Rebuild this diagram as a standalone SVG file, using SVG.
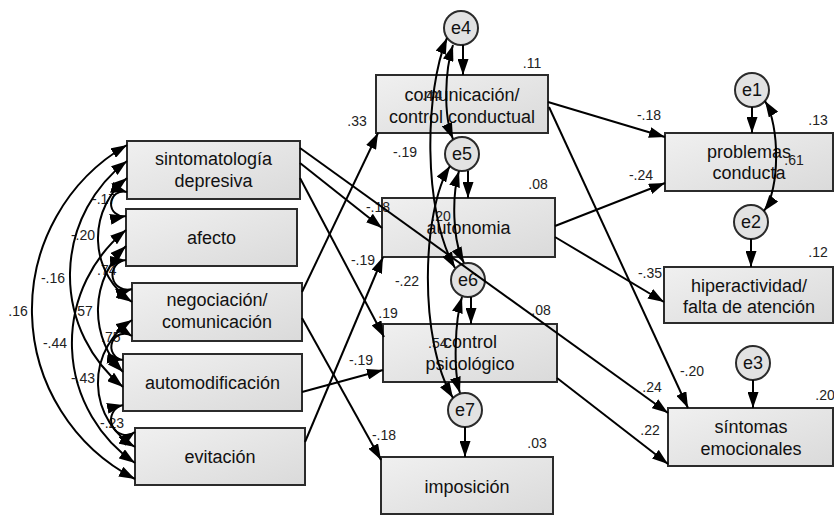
<svg xmlns="http://www.w3.org/2000/svg" width="834" height="516" viewBox="0 0 834 516">
<defs>
  <linearGradient id="boxFill" x1="0" y1="0" x2="1" y2="1">
    <stop offset="0" stop-color="#f0f0f0"/>
    <stop offset="1" stop-color="#dadada"/>
  </linearGradient>
  <marker id="ah" viewBox="0 0 16 11" markerUnits="userSpaceOnUse" markerWidth="16" markerHeight="11" refX="16" refY="5.5" orient="auto-start-reverse">
    <path d="M0,0 L16,5.5 L0,11 z" fill="#000"/>
  </marker>
  <style>
    .box { fill: url(#boxFill); stroke: #2b2b2b; stroke-width: 2; }
    .err { fill: #e2e2e2; stroke: #2b2b2b; stroke-width: 2; }
    .t { font-family: "Liberation Sans", Arial, sans-serif; font-size: 18px; fill: #111; text-anchor: middle; }
    .lb { font-family: "Liberation Sans", Arial, sans-serif; font-size: 14px; fill: #222; text-anchor: middle; }
    .ls { text-anchor: start; }
    .c { fill: none; stroke: #000; stroke-width: 2; }
    .one { marker-end: url(#ah); }
    .two { marker-start: url(#ah); marker-end: url(#ah); }
  </style>
</defs>

<!-- exogenous variables -->
<g id="sintomatologia">
  <rect class="box" x="127" y="141" width="173" height="58"/>
  <text class="t" x="213.5" y="165">sintomatología</text>
  <text class="t" x="213.5" y="187">depresiva</text>
</g>
<g id="afecto">
  <rect class="box" x="126" y="209" width="171" height="57"/>
  <text class="t" x="211.5" y="244">afecto</text>
</g>
<g id="negociacion">
  <rect class="box" x="132" y="283" width="170" height="58"/>
  <text class="t" x="217" y="306">negociación/</text>
  <text class="t" x="217" y="328">comunicación</text>
</g>
<g id="automodificacion">
  <rect class="box" x="123" y="354" width="179" height="57"/>
  <text class="t" x="212.5" y="389">automodificación</text>
</g>
<g id="evitacion">
  <rect class="box" x="135" y="428" width="170" height="57"/>
  <text class="t" x="220" y="463">evitación</text>
</g>

<!-- parenting dimensions -->
<g id="comunicacion">
  <rect class="box" x="376" y="75" width="172" height="58"/>
  <text class="t" x="462" y="101">comunicación/</text>
  <text class="t" x="462" y="123">control conductual</text>
</g>
<g id="autonomia">
  <rect class="box" x="382" y="198" width="173" height="59"/>
  <text class="t" x="468.5" y="234">autonomia</text>
</g>
<g id="control">
  <rect class="box" x="383" y="324" width="174" height="58"/>
  <text class="t" x="470" y="348">control</text>
  <text class="t" x="470" y="370">psicológico</text>
</g>
<g id="imposicion">
  <rect class="box" x="381" y="457" width="172" height="57"/>
  <text class="t" x="467" y="493">imposición</text>
</g>

<!-- outcomes -->
<g id="problemas">
  <rect class="box" x="665" y="133" width="168" height="58"/>
  <text class="t" x="749" y="158">problemas</text>
  <text class="t" x="749" y="179">conducta</text>
</g>
<g id="hiperactividad">
  <rect class="box" x="664" y="267" width="169" height="56"/>
  <text class="t" x="749" y="292">hiperactividad/</text>
  <text class="t" x="749" y="313">falta de atención</text>
</g>
<g id="sintomas">
  <rect class="box" x="668" y="408" width="165" height="58"/>
  <text class="t" x="751" y="433">síntomas</text>
  <text class="t" x="751" y="455">emocionales</text>
</g>

<!-- error terms -->
<g id="e1"><circle class="err" cx="752" cy="90" r="17"/><text class="t" x="752" y="96">e1</text></g>
<g id="e2"><circle class="err" cx="751" cy="222" r="17"/><text class="t" x="751" y="228">e2</text></g>
<g id="e3"><circle class="err" cx="753" cy="363" r="17"/><text class="t" x="753" y="369">e3</text></g>
<g id="e4"><circle class="err" cx="461" cy="28" r="17"/><text class="t" x="461" y="34">e4</text></g>
<g id="e5"><circle class="err" cx="462" cy="154" r="17"/><text class="t" x="462" y="160">e5</text></g>
<g id="e6"><circle class="err" cx="468" cy="280" r="17"/><text class="t" x="468" y="286">e6</text></g>
<g id="e7"><circle class="err" cx="465" cy="410" r="17"/><text class="t" x="465" y="416">e7</text></g>

<!-- estimates -->
<g id="labels">
  <!-- squared multiple correlations -->
  <text class="lb" x="532" y="68">.11</text>
  <text class="lb" x="538" y="189">.08</text>
  <text class="lb" x="541" y="315">.08</text>
  <text class="lb" x="537" y="448">.03</text>
  <text class="lb" x="818" y="125">.13</text>
  <text class="lb" x="818" y="257">.12</text>
  <text class="lb" x="825" y="400">.20</text>
  <!-- regression weights -->
  <text class="lb" x="357" y="126">.33</text>
  <text class="lb" x="378" y="212">-.18</text>
  <text class="lb" x="363" y="265">-.19</text>
  <text class="lb" x="388" y="318">.19</text>
  <text class="lb" x="361" y="365">-.19</text>
  <text class="lb" x="384" y="440">-.18</text>
  <text class="lb" x="649" y="120">-.18</text>
  <text class="lb" x="641" y="180">-.24</text>
  <text class="lb" x="650" y="278">-.35</text>
  <text class="lb" x="692" y="376">-.20</text>
  <text class="lb" x="652" y="392">.24</text>
  <text class="lb" x="650" y="435">.22</text>
  <!-- residual covariances -->
  <text class="lb" x="432" y="100">.44</text>
  <text class="lb" x="405" y="157">-.19</text>
  <text class="lb" x="441" y="221">.20</text>
  <text class="lb" x="407" y="286">-.22</text>
  <text class="lb ls" x="428" y="348">.54</text>
  <text class="lb" x="794" y="165">.61</text>
  <!-- exogenous covariances -->
  <text class="lb" x="18" y="316">.16</text>
  <text class="lb" x="53" y="283">-.16</text>
  <text class="lb" x="55" y="348">-.44</text>
  <text class="lb" x="83" y="240">-.20</text>
  <text class="lb" x="83" y="316">.57</text>
  <text class="lb" x="83" y="383">-.43</text>
  <text class="lb ls" x="92" y="204">-.17</text>
  <text class="lb ls" x="97" y="275">.74</text>
  <text class="lb ls" x="101" y="342">.75</text>
  <text class="lb ls" x="100" y="428">-.23</text>
</g>

<g id="connectors">
  <!-- covariances among exogenous variables -->
  <path class="c two" d="M127,145 A190.4,190.4 0 0 0 135,479"/>
  <path class="c two" d="M127,161 A143.6,143.6 0 0 0 123,387"/>
  <path class="c two" d="M126,230 A145.4,145.4 0 0 0 135,463"/>
  <path class="c two" d="M127,178 A76.9,76.9 0 0 0 132,302"/>
  <path class="c two" d="M126,246 A88.1,88.1 0 0 0 123,372"/>
  <path class="c two" d="M132,320 A74.5,74.5 0 0 0 135,447"/>
  <path class="c two" d="M127,192 A12.4,12.4 0 1 0 126,216"/>
  <path class="c two" d="M126,260 A14.9,14.9 0 1 0 132,289"/>
  <path class="c two" d="M132,336 A13.2,13.2 0 1 0 123,360"/>
  <path class="c two" d="M123,405 A15.1,15.1 0 1 0 135,432"/>

  <!-- regression paths -->
  <path class="c one" d="M300,148 L668,413"/>
  <path class="c one" d="M300,163 L382,228"/>
  <path class="c one" d="M300,178 L384,337"/>
  <path class="c one" d="M302,292 L378,133"/>
  <path class="c one" d="M302,318 L381,460"/>
  <path class="c one" d="M302,392 L383,370"/>
  <path class="c one" d="M305,442 L383,257"/>
  <path class="c one" d="M548,102 L665,137"/>
  <path class="c one" d="M549,107 L688,408"/>
  <path class="c one" d="M555,226 L665,183"/>
  <path class="c one" d="M555,237 L664,302"/>
  <path class="c one" d="M557,378 L668,464"/>

  <!-- error terms -->
  <path class="c one" d="M752,107 L752,133"/>
  <path class="c one" d="M751,239 L751,267"/>
  <path class="c one" d="M753,380 L753,408"/>
  <path class="c one" d="M463,45 L463,75"/>
  <path class="c one" d="M468,171 L468,198"/>
  <path class="c one" d="M471,297 L471,324"/>
  <path class="c one" d="M465,427 L465,457"/>

  <!-- residual covariances -->
  <path class="c two" d="M765,101 C780,125 780,190 764,211"/>
  <path class="c two" d="M453,45 C445,70 443,115 453,139"/>
  <path class="c two" d="M459,171 C452,195 452,240 464,263"/>
  <path class="c two" d="M462,297 C455,320 453,370 460,393"/>
  <path class="c two" d="M447,38 C425,90 422,210 455,268"/>
  <path class="c two" d="M450,166 C422,210 418,340 453,398"/>
</g>
</svg>
